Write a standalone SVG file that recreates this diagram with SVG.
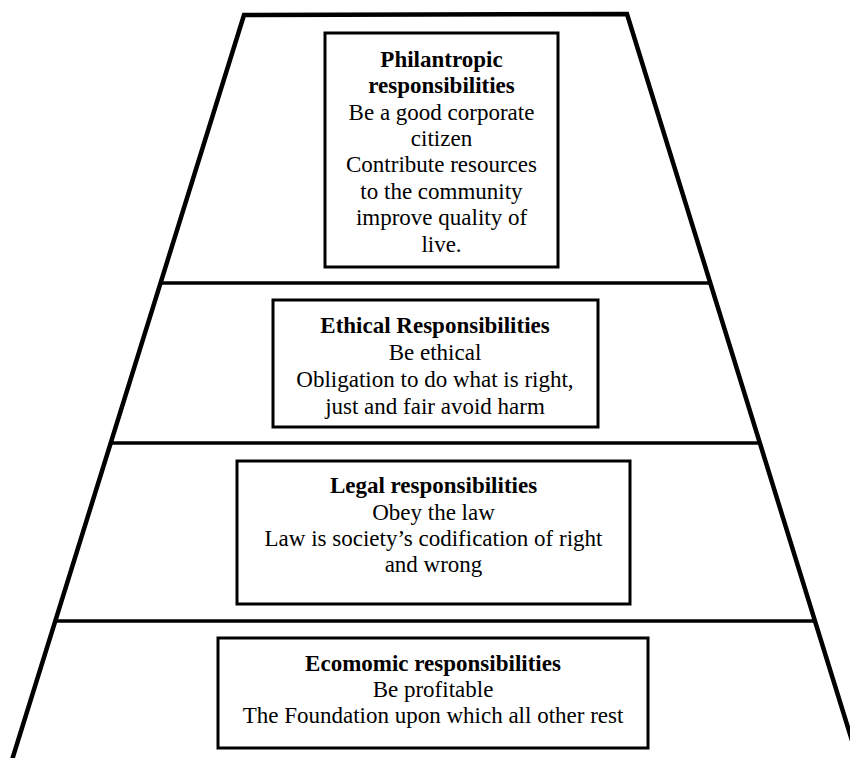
<svg xmlns="http://www.w3.org/2000/svg" width="850" height="758" viewBox="0 0 850 758">
<style>
.side{fill:none;stroke:#000;stroke-width:4.5;stroke-linejoin:miter}
.rung{stroke:#000;stroke-width:3.5}
.box{fill:#fff;stroke:#000;stroke-width:3}
text{font-family:"Liberation Serif","Times New Roman",serif;font-size:23px;fill:#000;text-anchor:middle}
.b{font-weight:bold}
</style>
<rect width="850" height="758" fill="#fff"/>
<g id="pyramid">
<polyline class="side" points="12,760 244,15 627,14 858,760"/>
</g>
<g id="connectors">
<line class="rung" x1="160" y1="283" x2="711" y2="283"/>
<line class="rung" x1="110" y1="443" x2="760" y2="443"/>
<line class="rung" x1="57" y1="621" x2="815" y2="621"/>
</g>
<g id="philanthropic">
<rect class="box" x="325" y="33" width="233" height="234"/>
<text class="b" x="441.5" y="66.7">Philantropic</text>
<text class="b" x="441.5" y="93">responsibilities</text>
<text x="441.5" y="119.5">Be a good corporate</text>
<text x="441.5" y="146">citizen</text>
<text x="441.5" y="172.3">Contribute resources</text>
<text x="441.5" y="198.7">to the community</text>
<text x="441.5" y="225">improve quality of</text>
<text x="441.5" y="251.5">live.</text>
</g>
<g id="ethical">
<rect class="box" x="273" y="300" width="325" height="127"/>
<text class="b" x="435" y="333">Ethical Responsibilities</text>
<text x="435" y="360">Be ethical</text>
<text x="435" y="387">Obligation to do what is right,</text>
<text x="435" y="413.5">just and fair avoid harm</text>
</g>
<g id="legal">
<rect class="box" x="237" y="461" width="393" height="143"/>
<text class="b" x="433.5" y="493.3">Legal responsibilities</text>
<text x="433.5" y="520">Obey the law</text>
<text x="433.5" y="546">Law is society’s codification of right</text>
<text x="433.5" y="572">and wrong</text>
</g>
<g id="economic">
<rect class="box" x="218" y="638" width="430" height="110"/>
<text class="b" x="433" y="670.7">Ecomomic responsibilities</text>
<text x="433" y="697">Be profitable</text>
<text x="433" y="723.3">The Foundation upon which all other rest</text>
</g>
</svg>
